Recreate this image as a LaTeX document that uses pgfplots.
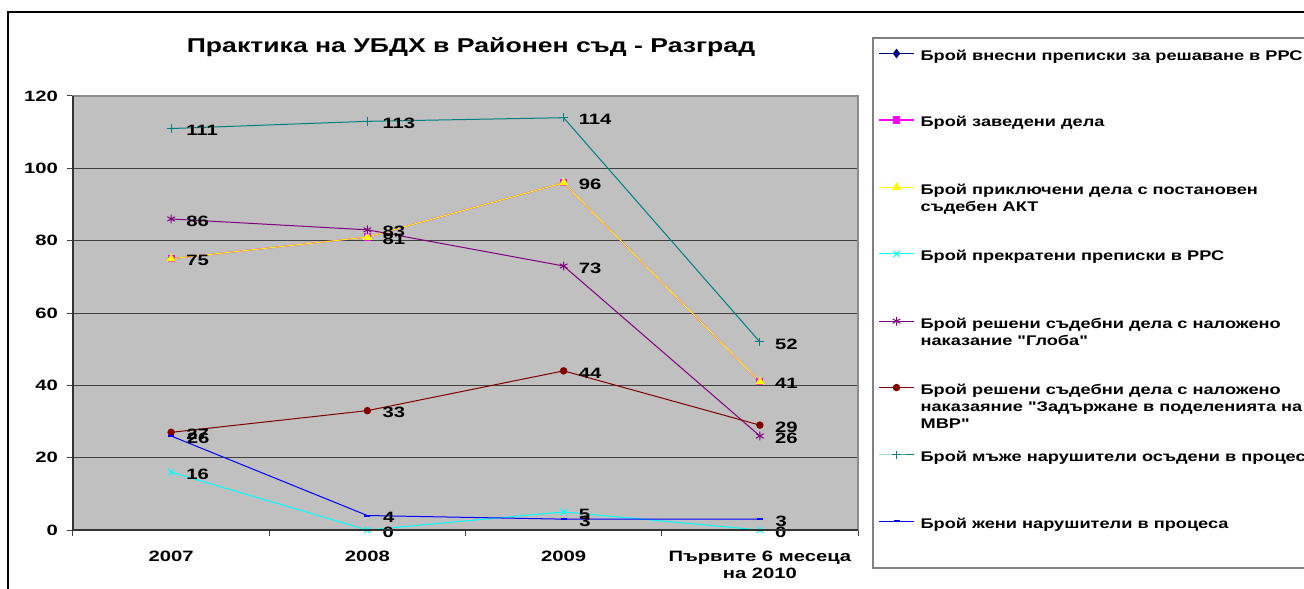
\documentclass[border=0pt]{standalone}
\usepackage{fontspec}
\setmainfont{Liberation Sans}
\newfontfamily\numfont[FakeStretch=1.35]{Liberation Sans}
\newfontfamily\legfont[FakeStretch=1.3]{Liberation Sans}
\newfontfamily\titfont[FakeStretch=1.33]{Liberation Sans}
\usepackage{pgfplots}
\pgfplotsset{compat=1.18}
\definecolor{plotbg}{HTML}{C0C0C0}
\definecolor{navyc}{HTML}{000080}
\definecolor{magc}{HTML}{FF00FF}
\definecolor{yelc}{HTML}{FFFF00}
\definecolor{cyac}{HTML}{00FFFF}
\definecolor{purc}{HTML}{800080}
\definecolor{redc}{HTML}{800000}
\definecolor{teac}{HTML}{008080}
\definecolor{bluc}{HTML}{0000FF}
\begin{document}
\begin{tikzpicture}
\path[use as bounding box] (0,0) rectangle (652pt,-294pt);
\clip (0,0) rectangle (652pt,-294pt);
\fill[white] (0,0) rectangle (652pt,-294pt);
\draw[black, line width=0.6pt] (4pt,-300pt) -- (4pt,-6pt) -- (660pt,-6pt);
\draw[black!50, line width=0.8pt] (700pt,-19pt) -- (436.5pt,-19pt) -- (436.5pt,-284pt) -- (700pt,-284pt);
\node[font=\titfont\bfseries\fontsize{10}{11}\selectfont] at (235.5pt,-23.5pt) {Практика на УБДХ в Районен съд - Разград};
\begin{axis}[
  at={(36.5pt,-48pt)}, anchor=north west,
  scale only axis, width=392.5pt, height=217pt,
  xmin=-0.5, xmax=3.5, ymin=0, ymax=120,
  clip=false,
  axis background/.style={fill=plotbg},
  axis line style={draw=black!45, line width=0.6pt},
  tick pos=left, tick align=outside,
  major tick length=3pt,
  xtick={-0.5,0.5,1.5,2.5,3.5}, xticklabels={,,,,},
  extra x ticks={0,1,2,3},
  extra x tick labels={2007,2008,2009,{Първите 6 месеца\\на 2010}},
  extra x tick style={major tick length=0pt, grid=none, tick label style={yshift=-7pt}},
  ytick={0,20,...,120},
  ymajorgrids, grid style={draw=black!75, line width=0.5pt},
  tick style={draw=black!75, line width=0.5pt},
  ticklabel style={font=\numfont\bfseries\fontsize{7.5}{8.5}\selectfont},
  xticklabel style={align=center},
  yticklabel style={xshift=-1pt},
  /pgf/number format/assume math mode=true,
  every node near coord/.style={anchor=west, xshift=4pt, yshift=-1pt, text=black, font=\numfont\bfseries\fontsize{7.5}{9}\selectfont},
  legend style={at={(1.0255,1.108)}, anchor=north west, draw=none, fill=none,
    inner sep=0pt, row sep=26.5pt, cells={anchor=base west},
    nodes={inner xsep=3pt, inner ysep=0pt},
    font=\legfont\bfseries\fontsize{7}{8.5}\selectfont},
  legend image code/.code={\draw[#1, mark repeat=2, mark phase=2] plot coordinates {(0pt,3.5pt) (8.75pt,3.5pt) (17.5pt,3.5pt)};},
  after end axis/.code={\draw[black!80, line width=0.6pt] (rel axis cs:0,1) -- (rel axis cs:0,0) -- (rel axis cs:1,0);},
]
\addlegendimage{navyc, line width=0.5pt, mark=diamond*, mark size=2pt, mark options={solid, fill=navyc}}
\addlegendentry{Брой внесни преписки за решаване в РРС}

\addplot[magc, line width=0.6pt, mark=square*, mark size=1.5pt, mark options={solid, fill=magc}]
  coordinates {(0,75) (1,81) (2,96) (3,41)};
\addlegendentry{Брой заведени дела}

\addplot[yelc, line width=0.5pt, mark=triangle*, mark size=2.2pt, mark options={solid, fill=yelc}, nodes near coords]
  coordinates {(0,75) (1,81) (2,96) (3,41)};
\addlegendentry{\parbox[t]{250pt}{Брой приключени дела с постановен\\съдебен АКТ}}

\addplot[cyac, line width=0.5pt, mark=x, mark size=2.2pt, mark options={solid}, nodes near coords]
  coordinates {(0,16) (1,0) (2,5) (3,0)};
\addlegendentry{Брой прекратени преписки в РРС}

\addplot[purc, line width=0.5pt, mark=asterisk, mark size=2.2pt, mark options={solid}, nodes near coords]
  coordinates {(0,86) (1,83) (2,73) (3,26)};
\addlegendentry{\parbox[t]{250pt}{Брой решени съдебни дела с наложено\\наказание "Глоба"}}

\addplot[redc, line width=0.5pt, mark=*, mark size=1.6pt, mark options={solid, fill=redc}, nodes near coords]
  coordinates {(0,27) (1,33) (2,44) (3,29)};
\addlegendentry{\parbox[t]{250pt}{Брой решени съдебни дела с наложено\\наказаяние "Задържане в поделенията на\\МВР"}}

\addplot[teac, line width=0.5pt, mark=+, mark size=2.2pt, mark options={solid}, nodes near coords]
  coordinates {(0,111) (1,113) (2,114) (3,52)};
\addlegendentry{Брой мъже нарушители осъдени в процеса}

\addplot[bluc, line width=0.5pt, mark=-, mark size=1.5pt, mark options={solid, line width=1pt}, nodes near coords]
  coordinates {(0,26) (1,4) (2,3) (3,3)};
\addlegendentry{Брой жени нарушители в процеса}
\end{axis}
\end{tikzpicture}
\end{document}
